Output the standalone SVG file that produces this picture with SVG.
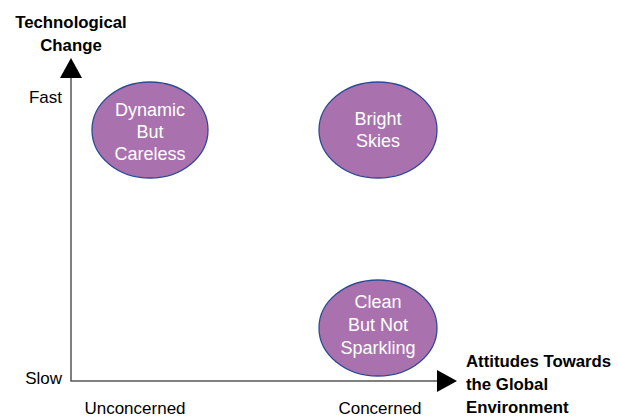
<svg xmlns="http://www.w3.org/2000/svg" width="618" height="417" viewBox="0 0 618 417">
  <style>
    .lbl { font-family: "Liberation Sans", Arial, sans-serif; font-size: 17px; fill: #000; }
    .bold { font-weight: bold; font-size: 16.8px; }
    .node ellipse { fill: #A972AE; stroke: #2F4A94; stroke-width: 1.3; }
    .node text { font-family: "Liberation Sans", Arial, sans-serif; font-size: 18px; fill: #fff; text-anchor: middle; }
    .axis { stroke: #555; stroke-width: 1.5; fill: none; }
  </style>
  <rect width="618" height="417" fill="#fff"/>

  <g id="connectors">
    <path class="axis" d="M71 76 V381 H440"/>
    <polygon points="71,58 60,78 82,78" fill="#000"/>
    <polygon points="457,381 437,370 437,392" fill="#000"/>
  </g>

  <g id="axis-labels">
    <text class="lbl bold" x="71" y="28" text-anchor="middle">Technological</text>
    <text class="lbl bold" x="71" y="51" text-anchor="middle">Change</text>
    <text class="lbl" x="62" y="103" text-anchor="end">Fast</text>
    <text class="lbl" x="62" y="384" text-anchor="end">Slow</text>
    <text class="lbl" x="135" y="414" text-anchor="middle">Unconcerned</text>
    <text class="lbl" x="380" y="414" text-anchor="middle">Concerned</text>
    <text class="lbl bold" x="466" y="367">Attitudes Towards</text>
    <text class="lbl bold" x="466" y="390">the Global</text>
    <text class="lbl bold" x="466" y="413">Environment</text>
  </g>

  <g id="dynamic-but-careless" class="node">
    <ellipse cx="150" cy="130" rx="58" ry="48"/>
    <text x="150" y="116">Dynamic</text>
    <text x="150" y="138">But</text>
    <text x="150" y="160">Careless</text>
  </g>

  <g id="bright-skies" class="node">
    <ellipse cx="378" cy="130" rx="59" ry="48"/>
    <text x="378" y="125">Bright</text>
    <text x="378" y="147">Skies</text>
  </g>

  <g id="clean-but-not-sparkling" class="node">
    <ellipse cx="378" cy="328" rx="59" ry="48"/>
    <text x="378" y="308">Clean</text>
    <text x="378" y="331">But Not</text>
    <text x="378" y="354">Sparkling</text>
  </g>
</svg>
